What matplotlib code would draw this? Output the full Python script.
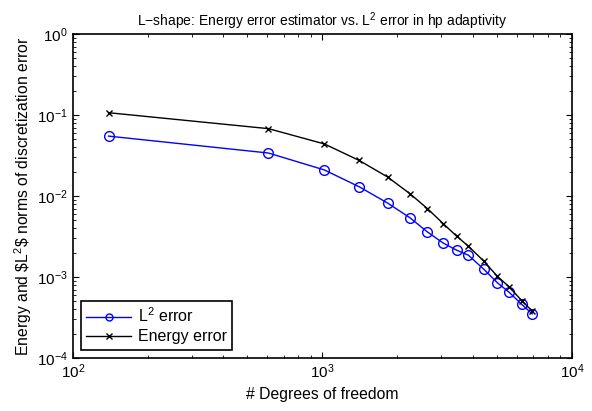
import numpy as np
import matplotlib
matplotlib.use('Agg')
import matplotlib.pyplot as plt

plt.rcParams['font.family'] = ['Liberation Sans', 'DejaVu Sans']
plt.rcParams['mathtext.fontset'] = 'custom'
plt.rcParams['mathtext.rm'] = 'Liberation Sans'
plt.rcParams['mathtext.it'] = 'Liberation Sans'

dofs = [139, 608, 1019, 1406, 1825, 2243, 2637, 3048, 3457, 3848, 4446, 5027, 5598, 6295, 6937]
l2_err = [0.055, 0.034, 0.021, 0.013, 0.0082, 0.0054, 0.0036, 0.00263, 0.00214, 0.00186,
          0.00124, 0.00085, 0.00065, 0.00046, 0.00035]
energy_err = [0.107, 0.068, 0.044, 0.0275, 0.0172, 0.0107, 0.0070, 0.00457, 0.00319, 0.0024,
              0.00156, 0.00102, 0.00076, 0.00051, 0.00038]

fig = plt.figure(figsize=(5.92, 4.11), dpi=100)
ax = fig.add_axes([0.123, 0.129, 0.843, 0.788])

ax.loglog(dofs, l2_err, color='#0000ff', marker='o', markersize=7, mfc='none',
          mew=1.0, lw=1.0, label='L$^2$ error')
ax.loglog(dofs, energy_err, color='black', marker='x', markersize=5,
          mew=1.0, lw=1.0, label='Energy error')

ax.set_xlim(1e2, 1e4)
ax.set_ylim(1e-4, 1e0)
ax.tick_params(which='both', direction='in', top=True, right=True, labelsize=11)
ax.tick_params(which='major', length=4)
ax.tick_params(which='minor', length=2)
for s in ax.spines.values():
    s.set_linewidth(1.2)

ax.set_title('L\u2212shape: Energy error estimator vs. L$^2$ error in hp adaptivity', fontsize=10)
ax.set_xlabel('# Degrees of freedom', fontsize=11.3)
ax.set_ylabel(r'Energy and \$L$^2$\$ norms of discretization error', fontsize=11.3, labelpad=2)

leg = ax.legend(loc='lower left', fontsize=11.5, fancybox=False, framealpha=1,
                borderaxespad=0.5, handlelength=2.8, borderpad=0.35, labelspacing=0.25,
                handletextpad=0.4)
leg.get_frame().set_edgecolor('black')
leg.get_frame().set_linewidth(1.2)
for h in leg.legend_handles:
    h.set_markersize(5)

fig.savefig('out.png', dpi=100)
